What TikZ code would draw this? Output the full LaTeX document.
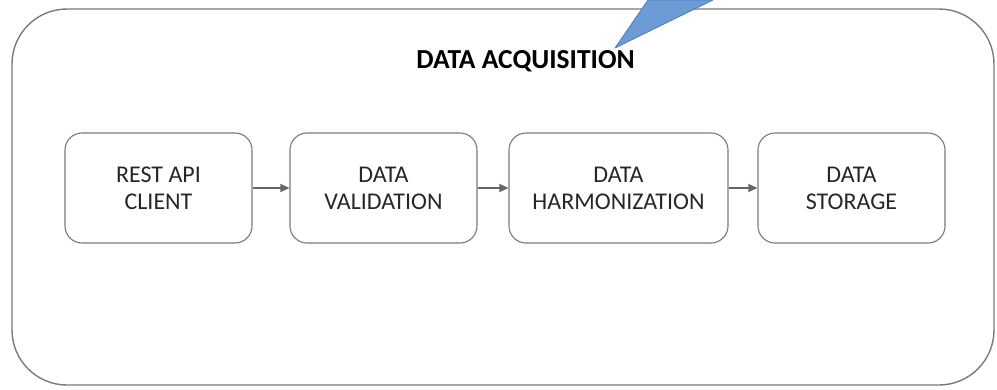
\documentclass[tikz,border=0pt]{standalone}
\usepackage{fontspec}
\setmainfont{Carlito}
\usetikzlibrary{arrows.meta}
\definecolor{boxline}{HTML}{7A7A7A}
\definecolor{arrowgray}{HTML}{666666}
\definecolor{txt}{HTML}{262626}
\definecolor{callfill}{HTML}{6D9BD5}
\definecolor{callline}{HTML}{4A7EBB}
\tikzset{
  stage/.style={draw=boxline, line width=1.1pt, rounded corners=17pt,
    minimum width=187pt, minimum height=110pt, align=center, text=txt,
    font=\fontsize{24}{27}\selectfont, inner sep=0pt},
  flow/.style={draw=arrowgray, line width=1.2pt, -{Triangle[length=9pt,width=8pt]}},
  frame/.style={draw=boxline, line width=1.4pt, rounded corners=55pt}
}
\begin{document}
\begin{tikzpicture}[x=1pt,y=-1pt]
\useasboundingbox (0,0) rectangle (997,389);
\node[frame, minimum width=982pt, minimum height=376pt, inner sep=0pt] (outer) at (503,197) {};
\node[font=\fontsize{27.5}{32}\selectfont\bfseries, text=black] (title) at (525.5,61.5) {DATA ACQUISITION};
\node[stage] (rest) at (158.5,188) {REST API\\CLIENT};
\node[stage] (valid) at (383.5,188) {DATA\\VALIDATION};
\node[stage, minimum width=219pt] (harm) at (618.5,188) {DATA\\HARMONIZATION};
\node[stage] (store) at (851.5,188) {DATA\\STORAGE};
\draw[flow] (rest) -- (valid);
\draw[flow] (valid) -- (harm);
\draw[flow] (harm) -- (store);
\coordinate (tip) at (615,48);
\filldraw[fill=callfill, draw=callline, line width=0.8pt, line join=round] (tip) -- (648,0) -- (713,0) -- cycle;
\end{tikzpicture}
\end{document}
